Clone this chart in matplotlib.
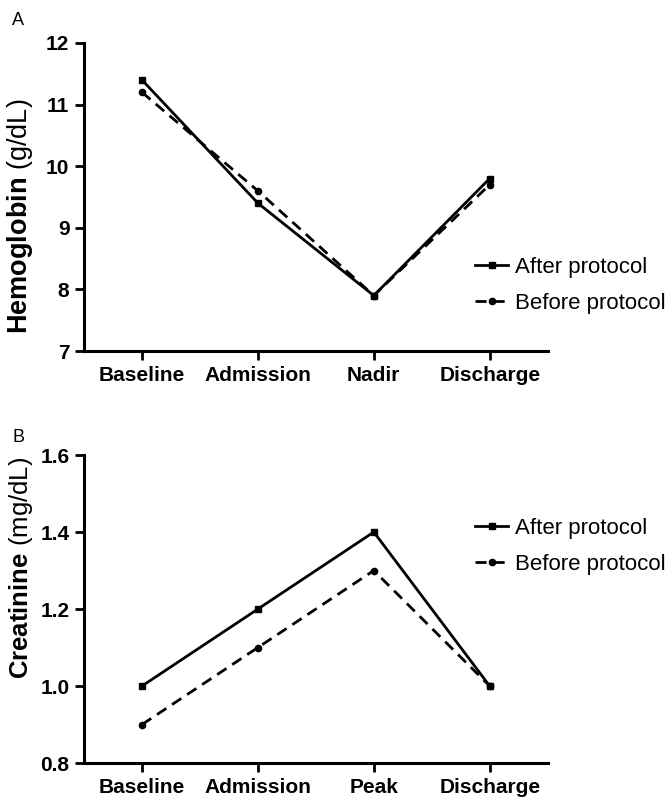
import matplotlib
matplotlib.use("Agg")
import matplotlib.pyplot as plt

plt.rcParams['font.family'] = ['Liberation Sans', 'DejaVu Sans']
plt.rcParams['mathtext.fontset'] = 'custom'
plt.rcParams['mathtext.rm'] = 'Liberation Sans'
plt.rcParams['mathtext.bf'] = 'Liberation Sans:bold'

# Panel A data
hb_labels = ["Baseline", "Admission", "Nadir", "Discharge"]
hb_after = [11.4, 9.4, 7.9, 9.8]
hb_before = [11.2, 9.6, 7.9, 9.7]

# Panel B data
cr_labels = ["Baseline", "Admission", "Peak", "Discharge"]
cr_after = [1.0, 1.2, 1.4, 1.0]
cr_before = [0.9, 1.1, 1.3, 1.0]


def draw_panel(fig, ax, labels, after, before, ylim, yticks, ytick_fmt,
               ylab_bold, ylab_unit, ylab_size, ylab_y, leg_y):
    x = list(range(len(labels)))
    ax.plot(x, after, color='black', lw=2.0, marker='s', ms=4.5, label='After protocol')
    ax.plot(x, before, color='black', lw=2.0, ls=(0, (4, 2.5)), marker='o', ms=4.5,
            label='Before protocol')
    ax.set_xlim(-0.5, 3.5)
    ax.set_ylim(*ylim)
    ax.set_yticks(yticks)
    ax.set_yticklabels([ytick_fmt.format(v) for v in yticks], fontsize=15, fontweight='bold')
    ax.set_xticks(x)
    ax.set_xticklabels(labels, fontsize=15, fontweight='bold')
    for s in ['top', 'right']:
        ax.spines[s].set_visible(False)
    for s in ['left', 'bottom']:
        ax.spines[s].set_linewidth(2.2)
    ax.tick_params(width=2.0, length=6.5, pad=4)
    ax.set_ylabel(r'$\mathbf{' + ylab_bold + r'}$' + ' ' + ylab_unit, fontsize=ylab_size)
    ax.yaxis.set_label_coords(-0.106, ylab_y)
    ax.legend(loc='center left', bbox_to_anchor=(0.71, leg_y), bbox_transform=fig.transFigure,
              frameon=False, fontsize=16, borderpad=0, borderaxespad=0,
              handlelength=1.5, handletextpad=0.3, labelspacing=0.68)


fig = plt.figure(figsize=(6.69, 7.99), dpi=100)
ax1 = fig.add_axes([0.1256, 0.5607, 0.693, 0.3855])
ax2 = fig.add_axes([0.1256, 0.045, 0.693, 0.3855])

draw_panel(fig, ax1, hb_labels, hb_after, hb_before, (7, 12), [7, 8, 9, 10, 11, 12], "{:g}",
           'Hemoglobin', '(g/dL)', 19.5, 0.437, 0.643)
draw_panel(fig, ax2, cr_labels, cr_after, cr_before, (0.8, 1.6), [0.8, 1.0, 1.2, 1.4, 1.6],
           "{:.1f}", 'Creatinine', '(mg/dL)', 18.5, 0.633, 0.316)

fig.text(0.018, 0.974, "A", fontsize=13, va='center')
fig.text(0.018, 0.452, "B", fontsize=13, va='center')

fig.savefig("out.png", dpi=100, facecolor='white')
